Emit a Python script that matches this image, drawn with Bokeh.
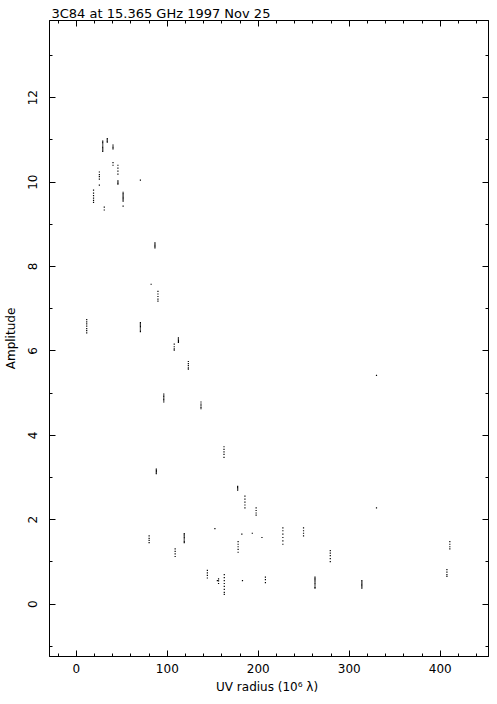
from bokeh.plotting import figure
from bokeh.models import Range1d, LinearAxis, SingleIntervalTicker
from bokeh.embed import file_html
from bokeh.resources import INLINE

title_text = "3C84 at 15.365 GHz 1997 Nov 25"
x_label = "UV radius  (10\u2076 \u03bb)"
y_label = "Amplitude"

# UV radius (10^6 lambda) of each visibility group, and the amplitudes in it
cluster_uv = [11.4, 18.9, 25.3, 29.0, 30.7, 34.0, 40.3, 45.7, 51.4, 70.4,
              70.4, 80.0, 82.2, 86.4, 87.9, 89.7, 96.1, 107.6, 108.6, 112.2,
              118.6, 123.1, 137.0, 144.0, 152.3, 156.3, 155.0, 162.3, 162.6, 177.3,
              177.8, 181.9, 182.6, 185.3, 193.4, 197.6, 204.0, 207.8, 227.0, 249.7,
              262.3, 279.1, 313.8, 329.9, 329.9, 407.3, 410.5]
cluster_amp = [
    [6.74, 6.69, 6.64, 6.59, 6.53, 6.48, 6.43],
    [9.81, 9.74, 9.68, 9.62, 9.57, 9.52],
    [10.24, 10.18, 10.13, 10.07, 9.93],
    [10.97, 10.94, 10.91, 10.88, 10.85, 10.82, 10.79, 10.76, 10.73],
    [9.41, 9.34],
    [11.03, 11.00, 10.97, 10.95],
    [10.88, 10.85, 10.82, 10.79, 10.46, 10.40],
    [10.40, 10.33, 10.26, 10.19, 10.03, 10.00, 9.97, 9.95],
    [9.76, 9.73, 9.70, 9.67, 9.64, 9.61, 9.58, 9.55, 9.43],
    [10.05],
    [6.67, 6.64, 6.61, 6.58, 6.55, 6.52, 6.49, 6.46],
    [1.62, 1.56, 1.51, 1.46],
    [7.58],
    [8.56, 8.53, 8.50, 8.47, 8.44],
    [3.20, 3.17, 3.14, 3.11, 3.09],
    [7.41, 7.35, 7.29, 7.23, 7.18],
    [4.98, 4.95, 4.92, 4.88, 4.85, 4.82, 4.79],
    [6.16, 6.10, 6.05, 6.02],
    [1.31, 1.25, 1.19, 1.13],
    [6.31, 6.28, 6.25, 6.22, 6.20],
    [1.67, 1.64, 1.61, 1.58, 1.55, 1.52, 1.49, 1.46],
    [5.75, 5.70, 5.65, 5.60, 5.57],
    [4.79, 4.74, 4.70, 4.66, 4.63],
    [0.80, 0.74, 0.68, 0.62],
    [1.79],
    [0.60, 0.55, 0.49],
    [0.56],
    [3.73, 3.67, 3.61, 3.55, 3.48],
    [0.70, 0.63, 0.56, 0.49, 0.42, 0.35, 0.28, 0.23],
    [2.79, 2.76, 2.73, 2.70],
    [1.48, 1.42, 1.36, 1.30, 1.23],
    [1.66],
    [0.56],
    [2.56, 2.49, 2.42, 2.35, 2.28],
    [1.68],
    [2.28, 2.22, 2.16, 2.11],
    [1.58],
    [0.64, 0.58, 0.51],
    [1.81, 1.74, 1.66, 1.58, 1.50, 1.42],
    [1.81, 1.74, 1.68, 1.62],
    [0.64, 0.61, 0.58, 0.55, 0.52, 0.49, 0.46, 0.43, 0.40, 0.38],
    [1.27, 1.21, 1.15, 1.08, 1.01],
    [0.56, 0.53, 0.50, 0.47, 0.44, 0.41, 0.38],
    [5.42],
    [2.28],
    [0.82, 0.76, 0.70, 0.66],
    [1.48, 1.42, 1.36, 1.31],
]

uv = []
amp = []
for u, amps in zip(cluster_uv, cluster_amp):
    for a in amps:
        uv.append(u)
        amp.append(a)

FONT = "DejaVu Sans"

p = figure(width=489, height=696, output_backend="svg", toolbar_location=None,
           x_range=Range1d(-29.5, 453.0), y_range=Range1d(-1.24, 13.83),
           x_axis_location=None, y_axis_location=None,
           min_border_left=39, min_border_right=1, min_border_top=20, min_border_bottom=40)
p.xgrid.visible = False
p.ygrid.visible = False
p.outline_line_color = "black"
p.background_fill_color = "white"
p.border_fill_color = "white"

p.title.text = title_text
p.title.text_font = FONT
p.title.text_font_size = "13px"
p.title.text_font_style = "normal"
p.title.text_color = "black"
p.title.align = "left"
p.title.offset = 2
p.title.standoff = 0


def style_axis(ax, show_labels):
    ax.axis_line_color = "black"
    ax.axis_line_width = 1
    ax.major_tick_in = 6
    ax.major_tick_out = 0
    ax.minor_tick_in = 3
    ax.minor_tick_out = 0
    ax.major_tick_line_color = "black"
    ax.minor_tick_line_color = "black"
    if show_labels:
        ax.major_label_text_font = FONT
        ax.major_label_text_font_size = "12px"
        ax.major_label_text_color = "black"
        ax.axis_label_text_font = FONT
        ax.axis_label_text_font_size = "12px"
        ax.axis_label_text_font_style = "normal"
        ax.axis_label_text_color = "black"
    else:
        ax.major_label_text_font_size = "0px"
        ax.major_label_standoff = 0
        ax.axis_label_standoff = 0


xb = LinearAxis(ticker=SingleIntervalTicker(interval=100, num_minor_ticks=5), axis_label=x_label)
style_axis(xb, True)
xb.major_label_standoff = 7
xb.axis_label_standoff = 4
p.add_layout(xb, "below")

xt = LinearAxis(ticker=SingleIntervalTicker(interval=100, num_minor_ticks=5))
style_axis(xt, False)
p.add_layout(xt, "above")

yl = LinearAxis(ticker=SingleIntervalTicker(interval=2, num_minor_ticks=2), axis_label=y_label)
style_axis(yl, True)
yl.major_label_orientation = "vertical"
yl.major_label_standoff = 12
yl.axis_label_standoff = 8
p.add_layout(yl, "left")

yr = LinearAxis(ticker=SingleIntervalTicker(interval=2, num_minor_ticks=2))
style_axis(yr, False)
p.add_layout(yr, "right")

p.scatter(uv, amp, marker="square", size=1.2, fill_color="black", line_color=None)

open("out.html", "w").write(file_html(p, INLINE))
